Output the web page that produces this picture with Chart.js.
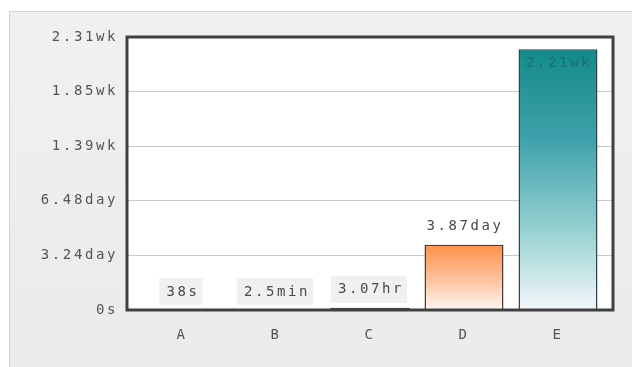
<!DOCTYPE html>
<html>
<head>
<meta charset="utf-8">
<title>Durations</title>
<script src="https://cdn.jsdelivr.net/npm/chart.js@4.4.1/dist/chart.umd.min.js"></script>
<style>
    html, body { margin: 0; padding: 0; background: #fff; }
    canvas { display: block; }
</style>
</head>
<body>
<canvas id="chart" width="632" height="367"></canvas>
<script>
/* Duration bar chart */
/* global Chart */

// ---------------------------------------------------------
// Data
// ---------------------------------------------------------
var categories  = ['A', 'B', 'C', 'D', 'E'];
var amounts     = [38, 2.5, 3.07, 3.87, 2.21];
var units       = ['s', 'min', 'hr', 'day', 'wk'];
var yTickLabels = ['0s', '3.24day', '6.48day', '1.39wk', '1.85wk', '2.31wk'];
var yStepDays   = 3.24;

(function () {
    'use strict';

    var UNIT_SEC = { s: 1, min: 60, hr: 3600, day: 86400, wk: 604800 };
    var STEP     = yStepDays * UNIT_SEC.day;
    var FONT     = '14px "DejaVu Sans Mono", monospace';
    var SPACING  = '2.6px';

    // bar fills: colour stops from bar top down to the axis
    var barStops = [
        [[0, '#6c9bd6'], [1, '#eef3fa']],
        [[0, '#8dbd4e'], [1, '#f2f8ea']],
        [[0, '#3a3a3a'], [1, '#3a3a3a']],
        [[0, '#ff914a'], [0.5, '#ffbf98'], [1, '#fff7f3']],
        [[0, '#138a8a'], [0.35, '#3fa2ac'], [0.7, '#98d2d2'], [1, '#f4f7fa']]
    ];
    var barBorder = ['#2e3e55', '#3e5230', '#1e1e1e', '#4a3a32', '#2c464c'];
    var labelBox  = [true, true, true, false, false];

    var seconds = amounts.map(function (a, i) { return a * UNIT_SEC[units[i]]; });
    var valueLabels = amounts.map(function (a, i) { return a + units[i]; });
    var points = seconds.map(function (v, i) { return { x: i, y: v }; });

    function barGradient(ctx) {
        var chart = ctx.chart, area = chart.chartArea;
        var i = ctx.dataIndex;
        var stops = barStops[i];
        if (!area || !chart.scales.y) return stops[0][1];
        var top = chart.scales.y.getPixelForValue(seconds[i]);
        if (area.bottom - top < 4) return stops[0][1];
        var g = chart.ctx.createLinearGradient(0, top, 0, area.bottom);
        stops.forEach(function (s) { g.addColorStop(s[0], s[1]); });
        return g;
    }

    // keep the wide letter spacing on the canvas state
    var spacingPlugin = {
        id: 'spacing',
        beforeUpdate: function (chart) { chart.ctx.letterSpacing = SPACING; },
        beforeDraw: function (chart) { chart.ctx.letterSpacing = SPACING; }
    };

    // grey panel behind the plot, white plot area
    var panelPlugin = {
        id: 'panel',
        beforeDraw: function (chart) {
            var c = chart.ctx, a = chart.chartArea;
            c.save();
            c.fillStyle = '#ffffff';
            c.fillRect(0, 0, chart.width, chart.height);
            var g = c.createLinearGradient(0, 11, 0, chart.height);
            g.addColorStop(0, '#f2efef');
            g.addColorStop(1, '#ebebeb');
            c.fillStyle = g;
            c.fillRect(9, 11, chart.width - 9, chart.height - 11);
            c.strokeStyle = '#d3d3d3';
            c.lineWidth = 1;
            c.strokeRect(9.5, 11.5, chart.width, chart.height);
            c.fillStyle = '#ffffff';
            c.fillRect(a.left, a.top, a.right - a.left, a.bottom - a.top);
            c.restore();
        }
    };

    // dark frame round the plot area
    var framePlugin = {
        id: 'frame',
        afterDatasetsDraw: function (chart) {
            var c = chart.ctx, a = chart.chartArea;
            c.save();
            c.strokeStyle = '#404040';
            c.lineWidth = 3;
            c.strokeRect(a.left, a.top, a.right - a.left, a.bottom - a.top);
            c.restore();
        }
    };

    // value text above each bar (inside when there is no room)
    var valueLabelPlugin = {
        id: 'valueLabels',
        afterDatasetsDraw: function (chart) {
            var c = chart.ctx, a = chart.chartArea;
            var meta = chart.getDatasetMeta(0);
            c.save();
            c.font = FONT;
            c.letterSpacing = SPACING;
            c.textAlign = 'center';
            c.textBaseline = 'middle';
            meta.data.forEach(function (bar, i) {
                var text = valueLabels[i];
                var y = bar.y - 18;
                var inside = false;
                if (y - 10 < a.top) {
                    y = bar.y + 14;
                    inside = true;
                }
                var w = c.measureText(text).width;
                if (labelBox[i]) {
                    c.fillStyle = 'rgba(228,228,228,0.55)';
                    c.fillRect(bar.x - w / 2 - 6, y - 14, w + 10, 27);
                }
                c.fillStyle = inside ? 'rgba(30,90,92,0.6)' : '#4a4a4a';
                c.fillText(text, bar.x + 1, y);
            });
            c.restore();
        }
    };

    new Chart(document.getElementById('chart'), {
        type: 'bar',
        data: {
            datasets: [{
                data:               points,
                backgroundColor:    barGradient,
                borderColor:        barBorder,
                borderWidth:        1.5,
                borderSkipped:      'bottom',
                barPercentage:      0.84,
                categoryPercentage: 1
            }]
        },
        options: {
            responsive: false,
            animation:  false,
            layout: { padding: { left: 0, top: 37, right: 19, bottom: 0 } },
            plugins: {
                legend:  { display: false },
                tooltip: { enabled: false }
            },
            scales: {
                x: {
                    type:   'linear',
                    offset: false,
                    min:    -0.585,
                    max:    categories.length - 1 + 0.585,
                    grid:   { display: false, offset: false },
                    border: { display: false },
                    ticks: {
                        stepSize: 1,
                        padding:  9,
                        color:    '#555',
                        autoSkip: false,
                        font:     { family: '"DejaVu Sans Mono", monospace', size: 14 },
                        callback: function (v) { return categories[v]; }
                    },
                    afterBuildTicks: function (scale) {
                        scale.ticks = categories.map(function (c, i) { return { value: i }; });
                    },
                    afterFit: function (scale) { scale.height = 57; }
                },
                y: {
                    min: 0,
                    max: STEP * (yTickLabels.length - 1),
                    grid:   { color: '#c8c8c8', lineWidth: 1, drawTicks: false },
                    border: { display: false },
                    ticks: {
                        stepSize: STEP,
                        padding:  9,
                        color:    '#555',
                        font:     { family: '"DejaVu Sans Mono", monospace', size: 14 },
                        callback: function (v, i) { return yTickLabels[i]; }
                    },
                    afterFit: function (scale) { scale.width = 127; }
                }
            }
        },
        plugins: [spacingPlugin, panelPlugin, framePlugin, valueLabelPlugin]
    });
}());
</script>
</body>
</html>
